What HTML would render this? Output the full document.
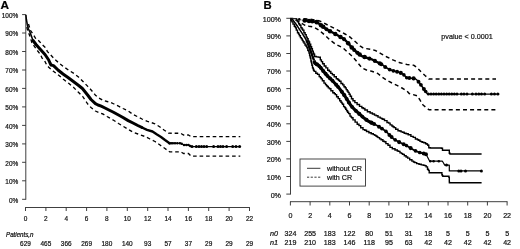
<!DOCTYPE html>
<html><head><meta charset="utf-8"><title>Survival curves</title>
<style>
html,body{margin:0;padding:0;background:#fff;}
body{width:520px;height:249px;overflow:hidden;font-family:"Liberation Sans",sans-serif;}
svg{display:block;}
</style></head><body>
<svg width="520" height="249" viewBox="0 0 520 249">
<rect width="520" height="249" fill="#fff"/>
<g fill="none" stroke="#2a2a2a" stroke-width="0.9">
<path d="M25.8,14.2V199.7"/>
<path d="M22.1,199.3H25.8"/>
<path d="M22.1,180.8H25.8"/>
<path d="M22.1,162.3H25.8"/>
<path d="M22.1,143.9H25.8"/>
<path d="M22.1,125.4H25.8"/>
<path d="M22.1,106.9H25.8"/>
<path d="M22.1,88.4H25.8"/>
<path d="M22.1,70.0H25.8"/>
<path d="M22.1,51.5H25.8"/>
<path d="M22.1,33.0H25.8"/>
<path d="M22.1,14.6H25.8"/>
<path d="M25.1,207.5H249.9"/>
<path d="M25.5,207.5V211"/>
<path d="M45.9,207.5V211"/>
<path d="M66.2,207.5V211"/>
<path d="M86.6,207.5V211"/>
<path d="M106.9,207.5V211"/>
<path d="M127.3,207.5V211"/>
<path d="M147.7,207.5V211"/>
<path d="M168.0,207.5V211"/>
<path d="M188.4,207.5V211"/>
<path d="M208.7,207.5V211"/>
<path d="M229.1,207.5V211"/>
<path d="M249.5,207.5V211"/>
<path d="M290.5,17.9V194.5"/>
<path d="M286.3,194.1H290.5"/>
<path d="M286.3,176.5H290.5"/>
<path d="M286.3,158.9H290.5"/>
<path d="M286.3,141.4H290.5"/>
<path d="M286.3,123.8H290.5"/>
<path d="M286.3,106.2H290.5"/>
<path d="M286.3,88.6H290.5"/>
<path d="M286.3,71.0H290.5"/>
<path d="M286.3,53.5H290.5"/>
<path d="M286.3,35.9H290.5"/>
<path d="M286.3,18.3H290.5"/>
<path d="M290.0,201.7H507.5"/>
<path d="M290.4,201.7V205.5"/>
<path d="M310.1,201.7V205.5"/>
<path d="M329.8,201.7V205.5"/>
<path d="M349.5,201.7V205.5"/>
<path d="M369.2,201.7V205.5"/>
<path d="M388.9,201.7V205.5"/>
<path d="M408.6,201.7V205.5"/>
<path d="M428.3,201.7V205.5"/>
<path d="M448.0,201.7V205.5"/>
<path d="M467.7,201.7V205.5"/>
<path d="M487.4,201.7V205.5"/>
<path d="M507.1,201.7V205.5"/>
</g>
<g font-family="'Liberation Sans', sans-serif" fill="#111" stroke="#111" stroke-width="0.22">
<text x="0.5" y="9.4" font-size="11.8" font-weight="bold" fill="#000">A</text>
<text x="263.5" y="8.8" font-size="11.3" font-weight="bold" fill="#000">B</text>
<text transform="translate(18.2,202.5) scale(0.91,1)" font-size="7.10" text-anchor="end">0%</text>
<text transform="translate(18.2,184.0) scale(0.91,1)" font-size="7.10" text-anchor="end">10%</text>
<text transform="translate(18.2,165.5) scale(0.91,1)" font-size="7.10" text-anchor="end">20%</text>
<text transform="translate(18.2,147.1) scale(0.91,1)" font-size="7.10" text-anchor="end">30%</text>
<text transform="translate(18.2,128.6) scale(0.91,1)" font-size="7.10" text-anchor="end">40%</text>
<text transform="translate(18.2,110.1) scale(0.91,1)" font-size="7.10" text-anchor="end">50%</text>
<text transform="translate(18.2,91.6) scale(0.91,1)" font-size="7.10" text-anchor="end">60%</text>
<text transform="translate(18.2,73.2) scale(0.91,1)" font-size="7.10" text-anchor="end">70%</text>
<text transform="translate(18.2,54.7) scale(0.91,1)" font-size="7.10" text-anchor="end">80%</text>
<text transform="translate(18.2,36.2) scale(0.91,1)" font-size="7.10" text-anchor="end">90%</text>
<text transform="translate(18.2,17.8) scale(0.91,1)" font-size="7.10" text-anchor="end">100%</text>
<text transform="translate(25.5,221.3) scale(0.875,1)" font-size="7.40" text-anchor="middle">0</text>
<text transform="translate(45.9,221.3) scale(0.875,1)" font-size="7.40" text-anchor="middle">2</text>
<text transform="translate(66.2,221.3) scale(0.875,1)" font-size="7.40" text-anchor="middle">4</text>
<text transform="translate(86.6,221.3) scale(0.875,1)" font-size="7.40" text-anchor="middle">6</text>
<text transform="translate(106.9,221.3) scale(0.875,1)" font-size="7.40" text-anchor="middle">8</text>
<text transform="translate(127.3,221.3) scale(0.875,1)" font-size="7.40" text-anchor="middle">10</text>
<text transform="translate(147.7,221.3) scale(0.875,1)" font-size="7.40" text-anchor="middle">12</text>
<text transform="translate(168.0,221.3) scale(0.875,1)" font-size="7.40" text-anchor="middle">14</text>
<text transform="translate(188.4,221.3) scale(0.875,1)" font-size="7.40" text-anchor="middle">16</text>
<text transform="translate(208.7,221.3) scale(0.875,1)" font-size="7.40" text-anchor="middle">18</text>
<text transform="translate(229.1,221.3) scale(0.875,1)" font-size="7.40" text-anchor="middle">20</text>
<text transform="translate(249.5,221.3) scale(0.875,1)" font-size="7.40" text-anchor="middle">22</text>
<text transform="translate(25.5,245.5) scale(0.875,1)" font-size="7.40" text-anchor="middle">629</text>
<text transform="translate(45.9,245.5) scale(0.875,1)" font-size="7.40" text-anchor="middle">465</text>
<text transform="translate(66.2,245.5) scale(0.875,1)" font-size="7.40" text-anchor="middle">366</text>
<text transform="translate(86.6,245.5) scale(0.875,1)" font-size="7.40" text-anchor="middle">269</text>
<text transform="translate(106.9,245.5) scale(0.875,1)" font-size="7.40" text-anchor="middle">180</text>
<text transform="translate(127.3,245.5) scale(0.875,1)" font-size="7.40" text-anchor="middle">140</text>
<text transform="translate(147.7,245.5) scale(0.875,1)" font-size="7.40" text-anchor="middle">93</text>
<text transform="translate(168.0,245.5) scale(0.875,1)" font-size="7.40" text-anchor="middle">57</text>
<text transform="translate(188.4,245.5) scale(0.875,1)" font-size="7.40" text-anchor="middle">37</text>
<text transform="translate(208.7,245.5) scale(0.875,1)" font-size="7.40" text-anchor="middle">29</text>
<text transform="translate(229.1,245.5) scale(0.875,1)" font-size="7.40" text-anchor="middle">29</text>
<text transform="translate(249.5,245.5) scale(0.875,1)" font-size="7.40" text-anchor="middle">29</text>
<text transform="translate(6.0,237.2) scale(0.94,1)" font-size="6.60" font-style="italic">Patients,n</text>
<text transform="translate(281.0,197.5) scale(0.92,1)" font-size="7.80" text-anchor="end">0%</text>
<text transform="translate(281.0,179.9) scale(0.92,1)" font-size="7.80" text-anchor="end">10%</text>
<text transform="translate(281.0,162.3) scale(0.92,1)" font-size="7.80" text-anchor="end">20%</text>
<text transform="translate(281.0,144.8) scale(0.92,1)" font-size="7.80" text-anchor="end">30%</text>
<text transform="translate(281.0,127.2) scale(0.92,1)" font-size="7.80" text-anchor="end">40%</text>
<text transform="translate(281.0,109.6) scale(0.92,1)" font-size="7.80" text-anchor="end">50%</text>
<text transform="translate(281.0,92.0) scale(0.92,1)" font-size="7.80" text-anchor="end">60%</text>
<text transform="translate(281.0,74.4) scale(0.92,1)" font-size="7.80" text-anchor="end">70%</text>
<text transform="translate(281.0,56.9) scale(0.92,1)" font-size="7.80" text-anchor="end">80%</text>
<text transform="translate(281.0,39.3) scale(0.92,1)" font-size="7.80" text-anchor="end">90%</text>
<text transform="translate(281.0,21.7) scale(0.92,1)" font-size="7.80" text-anchor="end">100%</text>
<text transform="translate(290.4,218.0) scale(0.88,1)" font-size="8.10" text-anchor="middle">0</text>
<text transform="translate(310.1,218.0) scale(0.88,1)" font-size="8.10" text-anchor="middle">2</text>
<text transform="translate(329.8,218.0) scale(0.88,1)" font-size="8.10" text-anchor="middle">4</text>
<text transform="translate(349.5,218.0) scale(0.88,1)" font-size="8.10" text-anchor="middle">6</text>
<text transform="translate(369.2,218.0) scale(0.88,1)" font-size="8.10" text-anchor="middle">8</text>
<text transform="translate(388.9,218.0) scale(0.88,1)" font-size="8.10" text-anchor="middle">10</text>
<text transform="translate(408.6,218.0) scale(0.88,1)" font-size="8.10" text-anchor="middle">12</text>
<text transform="translate(428.3,218.0) scale(0.88,1)" font-size="8.10" text-anchor="middle">14</text>
<text transform="translate(448.0,218.0) scale(0.88,1)" font-size="8.10" text-anchor="middle">16</text>
<text transform="translate(467.7,218.0) scale(0.88,1)" font-size="8.10" text-anchor="middle">18</text>
<text transform="translate(487.4,218.0) scale(0.88,1)" font-size="8.10" text-anchor="middle">20</text>
<text transform="translate(507.1,218.0) scale(0.88,1)" font-size="8.10" text-anchor="middle">22</text>
<text transform="translate(290.4,236.1) scale(0.88,1)" font-size="8.10" text-anchor="middle">324</text>
<text transform="translate(310.1,236.1) scale(0.88,1)" font-size="8.10" text-anchor="middle">255</text>
<text transform="translate(329.8,236.1) scale(0.88,1)" font-size="8.10" text-anchor="middle">183</text>
<text transform="translate(349.5,236.1) scale(0.88,1)" font-size="8.10" text-anchor="middle">122</text>
<text transform="translate(369.2,236.1) scale(0.88,1)" font-size="8.10" text-anchor="middle">80</text>
<text transform="translate(388.9,236.1) scale(0.88,1)" font-size="8.10" text-anchor="middle">51</text>
<text transform="translate(408.6,236.1) scale(0.88,1)" font-size="8.10" text-anchor="middle">31</text>
<text transform="translate(428.3,236.1) scale(0.88,1)" font-size="8.10" text-anchor="middle">18</text>
<text transform="translate(448.0,236.1) scale(0.88,1)" font-size="8.10" text-anchor="middle">5</text>
<text transform="translate(467.7,236.1) scale(0.88,1)" font-size="8.10" text-anchor="middle">5</text>
<text transform="translate(487.4,236.1) scale(0.88,1)" font-size="8.10" text-anchor="middle">5</text>
<text transform="translate(507.1,236.1) scale(0.88,1)" font-size="8.10" text-anchor="middle">5</text>
<text transform="translate(290.4,245.2) scale(0.88,1)" font-size="8.10" text-anchor="middle">219</text>
<text transform="translate(310.1,245.2) scale(0.88,1)" font-size="8.10" text-anchor="middle">210</text>
<text transform="translate(329.8,245.2) scale(0.88,1)" font-size="8.10" text-anchor="middle">183</text>
<text transform="translate(349.5,245.2) scale(0.88,1)" font-size="8.10" text-anchor="middle">146</text>
<text transform="translate(369.2,245.2) scale(0.88,1)" font-size="8.10" text-anchor="middle">118</text>
<text transform="translate(388.9,245.2) scale(0.88,1)" font-size="8.10" text-anchor="middle">95</text>
<text transform="translate(408.6,245.2) scale(0.88,1)" font-size="8.10" text-anchor="middle">63</text>
<text transform="translate(428.3,245.2) scale(0.88,1)" font-size="8.10" text-anchor="middle">42</text>
<text transform="translate(448.0,245.2) scale(0.88,1)" font-size="8.10" text-anchor="middle">42</text>
<text transform="translate(467.7,245.2) scale(0.88,1)" font-size="8.10" text-anchor="middle">42</text>
<text transform="translate(487.4,245.2) scale(0.88,1)" font-size="8.10" text-anchor="middle">42</text>
<text transform="translate(507.1,245.2) scale(0.88,1)" font-size="8.10" text-anchor="middle">42</text>
<text transform="translate(270.0,236.1) scale(0.92,1)" font-size="7.90" font-style="italic">n0</text>
<text transform="translate(270.0,245.2) scale(0.92,1)" font-size="7.90" font-style="italic">n1</text>
<text transform="translate(441.3,39.4) scale(0.91,1)" font-size="7.90">pvalue &lt; 0.0001</text>
<text transform="translate(327.0,171.4) scale(0.92,1)" font-size="7.80">without CR</text>
<text transform="translate(327.0,180.4) scale(0.92,1)" font-size="7.80">with CR</text>
</g>
<rect x="300.0" y="159.0" width="65.5" height="27.1" fill="none" stroke="#333" stroke-width="0.9"/>
<path d="M307,168.3H320.4" stroke="#222" stroke-width="0.9"/>
<path d="M307,177.2H320.4" stroke="#222" stroke-width="0.9" stroke-dasharray="2.2 1.5"/>
<g fill="none" stroke="#000" stroke-linejoin="round">
<polyline points="28.5,24.0 30.4,30.3 33.6,35.0 35.8,38.8 39.0,41.0 42.0,44.4 45.0,47.2 47.5,51.6 51.0,55.3 55.0,59.5 59.3,63.3 64.0,67.0 69.0,70.4 74.0,73.5 78.5,77.0 83.0,81.5 88.0,86.6 92.0,91.0 95.4,95.2 99.0,98.0 103.0,100.4 107.0,101.5 110.8,102.6 114.0,104.0 118.5,106.2 123.0,108.5 128.2,111.0 133.0,114.5 137.8,116.8 142.0,119.0 147.4,121.4 151.0,122.5 155.0,123.8 160.0,127.0 164.0,130.0 168.5,133.2 180.8,133.3 183.4,135.0 188.5,135.0 191.0,136.6 240.3,136.6" stroke-width="1.35" stroke-dasharray="3.6 2.9"/>
<polyline points="26.9,27.0 27.3,29.0 28.7,33.0 30.5,38.0 31.9,42.8 36.2,49.0 40.6,54.7 42.0,58.0 44.4,60.3 46.4,64.3 49.0,67.6 53.4,71.3 58.7,75.3 63.4,79.3 68.4,83.1 73.4,87.3 77.9,91.7 82.7,96.5 87.7,104.0 91.0,107.5 95.4,111.0 99.0,112.6 103.0,114.0 107.0,116.5 110.8,118.7 114.0,120.5 118.5,123.5 123.0,126.2 128.2,129.3 133.0,132.2 138.0,134.0 145.0,136.5 150.0,139.0 155.0,141.5 160.0,145.0 165.0,148.5 169.5,151.8 180.8,151.8 183.4,153.5 188.5,153.5 191.0,156.1 240.3,156.1" stroke-width="1.35" stroke-dasharray="3.6 2.9"/>
<polyline points="33.0,40.5 36.0,44.5 40.0,49.0 45.0,54.5 48.7,60.0 50.0,63.0 51.0,65.0 53.5,65.6 58.0,70.0 63.0,74.0 68.0,77.5 72.7,81.0 78.0,85.0 82.4,88.5 88.0,95.5 91.0,99.5 95.4,103.7 98.0,105.0 101.2,106.2 105.0,108.0 108.9,110.0 113.0,112.0 118.5,115.0 123.0,117.5 128.2,120.6 133.0,123.0 137.8,125.5 142.0,127.5" stroke-width="3.0" stroke-linecap="round"/>
<polyline points="142.0,127.5 147.0,129.8 152.5,131.5 157.0,134.5 161.0,137.0 165.0,140.0 169.5,143.2" stroke-width="2.4" stroke-linecap="round"/>
<polyline points="169.5,143.2 180.8,143.2 183.4,144.9 188.5,144.9 191.0,146.6 240.3,146.6" stroke-width="1.1"/>
<polyline points="25.9,15.0 26.4,19.5 27.3,24.5 28.4,28.7 30.4,33.3 33.0,40.5" stroke-width="1.5"/>
<polyline points="303.5,18.7 310.0,19.2 318.7,20.6 323.5,22.7 328.7,25.6 335.0,28.7 341.2,32.0 345.0,34.0 348.7,36.0 352.4,39.2 356.0,42.3 360.0,45.8 363.0,47.8 366.0,48.6 371.7,49.4 376.0,50.8 381.3,53.8 387.0,57.0 393.5,60.2 400.0,62.8 407.0,64.5 413.9,65.3 417.0,67.5 420.8,71.5 425.0,75.5 428.9,79.0 496.0,79.0" stroke-width="1.45" stroke-dasharray="4.0 3.1"/>
<polyline points="295.5,20.2 296.5,20.6 298.7,21.3 304.3,25.0 309.0,26.2 313.7,27.0 318.7,30.0 322.5,33.1 326.2,36.3 330.0,40.0 336.0,44.5 342.8,47.8 347.0,51.6 352.4,56.4 357.0,61.8 362.0,68.0 366.5,70.0 371.7,71.2 377.8,73.5 382.0,77.0 387.4,80.6 392.0,83.0 397.0,85.4 402.0,88.0 406.7,90.7 409.2,93.5 417.3,95.8 420.0,100.0 423.0,105.0 428.9,109.7 497.0,109.7" stroke-width="1.45" stroke-dasharray="4.0 3.1"/>
<polyline points="290.5,18.5 292.5,18.5 293.9,18.6 296.0,18.6 296.5,18.6 296.5,19.9 296.9,19.9 297.5,19.9 297.5,21.8 298.1,21.8 298.7,21.8 298.7,23.8 299.2,23.8 299.5,23.8 299.5,24.6 299.7,24.6 299.9,24.6 299.9,25.3 300.1,25.3 300.9,25.3 300.9,27.7 301.6,27.7 302.0,27.7 302.0,29.0 302.3,29.0 302.7,29.0 302.7,30.1 303.0,30.1 303.9,30.1 303.9,32.8 304.7,32.8 305.1,32.8 305.1,34.6 305.6,34.6 306.2,34.6 306.2,37.1 306.8,37.1 307.2,37.1 307.2,38.8 307.6,38.8 308.1,38.8 308.1,41.0 308.6,41.0 308.9,41.0 308.9,42.0 309.1,42.0 309.6,42.0 309.6,44.1 310.1,44.1 310.7,44.1 310.7,46.8 311.2,46.8 311.6,46.8 311.6,48.7 312.0,48.7 312.4,48.7 312.4,51.1 312.9,51.1 313.3,51.1 313.3,53.3 313.8,53.3 313.9,53.3 313.9,54.2 314.1,54.2 314.6,54.2 314.6,56.5 315.2,56.5 316.3,56.5 316.3,56.9 317.4,56.9 318.1,56.9 318.1,57.1 318.9,57.1 319.3,57.1 319.3,57.3 319.7,57.3 320.3,57.3 320.3,59.9 321.0,59.9 321.4,59.9 321.4,61.6 321.9,61.6 322.6,61.6 322.6,63.8 323.2,63.8 324.2,63.8 324.2,66.0 325.1,66.0 325.9,66.0 325.9,67.9 326.7,67.9 327.7,67.9 327.7,70.2 328.7,70.2 329.3,70.2 329.3,71.5 329.9,71.5 330.8,71.5 330.8,73.4 331.8,73.4 332.4,73.4 332.4,74.8 333.1,74.8 334.2,74.8 334.2,76.8 335.3,76.8 336.3,76.8 336.3,78.8 337.4,78.8 337.8,78.8 337.8,79.5 338.2,79.5 338.6,79.5 338.6,80.3 339.0,80.3 339.5,80.3 339.5,81.2 339.9,81.2 341.0,81.2 341.0,83.5 342.1,83.5 342.7,83.5 342.7,84.9 343.3,84.9 344.0,84.9 344.0,86.7 344.7,86.7 345.2,86.7 345.2,87.9 345.7,87.9 346.2,87.9 346.2,89.6 346.8,89.6 347.2,89.6 347.2,91.0 347.7,91.0 348.1,91.0 348.1,92.4 348.5,92.4 349.1,92.4 349.1,94.3 349.7,94.3 350.2,94.3 350.2,96.2 350.8,96.2 351.5,96.2 351.5,98.8 352.2,98.8 353.0,98.8 353.0,100.7 353.7,100.7 354.9,100.7 354.9,102.6 356.0,102.6 357.1,102.6 357.1,104.5 358.2,104.5 359.5,104.5 359.5,106.4 360.8,106.4 361.8,106.4 361.8,107.8 362.7,107.8 363.2,107.8 363.2,108.5 363.7,108.5 364.9,108.5 364.9,110.0 366.1,110.0 367.4,110.0 367.4,111.7 368.8,111.7 370.1,111.7 370.1,113.0 371.4,113.0 372.4,113.0 372.4,114.0 373.3,114.0 374.5,114.0 374.5,115.1 375.6,115.1 376.2,115.1 376.2,115.7 376.7,115.7 378.0,115.7 378.0,117.1 379.2,117.1 380.2,117.1 380.2,118.1 381.1,118.1 381.8,118.1 381.8,118.8 382.4,118.8 382.8,118.8 382.8,119.2 383.3,119.2 384.5,119.2 384.5,120.6 385.8,120.6 387.0,120.6 387.0,122.5 388.3,122.5 388.7,122.5 388.7,123.1 389.1,123.1 390.1,123.1 390.1,124.9 391.2,124.9 391.9,124.9 391.9,126.0 392.6,126.0 393.0,126.0 393.0,126.7 393.5,126.7 394.1,126.7 394.1,127.6 394.7,127.6 395.7,127.6 395.7,129.3 396.8,129.3 398.0,129.3 398.0,130.7 399.3,130.7 399.7,130.7 399.7,131.0 400.1,131.0 401.1,131.0 401.1,131.9 402.2,131.9 402.6,131.9 402.6,132.3 403.0,132.3 404.2,132.3 404.2,133.2 405.4,133.2 406.1,133.2 406.1,133.7 406.9,133.7 408.2,133.7 408.2,134.8 409.6,134.8 410.9,134.8 410.9,136.4 412.3,136.4 413.2,136.4 413.2,137.4 414.0,137.4 415.4,137.4 415.4,139.0 416.8,139.0 417.5,139.0 417.5,139.8 418.1,139.8 418.6,139.8 418.6,140.3 419.0,140.3 420.0,140.3 420.0,141.4 420.9,141.4 421.4,141.4 421.4,141.7 421.8,141.7 422.3,141.7 422.3,142.2 422.9,142.2 423.8,142.2 423.8,142.8 424.6,142.8 425.6,142.8 425.6,143.7 426.7,143.7 427.1,143.7 427.1,144.4 427.6,144.4 427.8,144.4 427.8,145.2 428.0,145.2 428.8,145.2 428.8,147.7 429.5,147.7 430.2,147.7 430.2,148.0 430.9,148.0 434.0,148.0 436.9,148.0 438.6,148.0 440.5,148.0 441.5,148.0 441.5,148.2 442.4,148.2 442.5,148.2 442.5,150.3 442.6,150.3 444.8,150.3 447.0,150.3 449.3,150.3 449.3,153.3 450.0,153.3 450.0,154.0 450.7,154.0 452.5,154.0 455.0,154.0 456.4,154.0 457.9,154.0 461.1,154.0 463.1,154.0 465.2,154.0 466.0,154.0 467.8,154.0 470.0,154.0 470.9,154.0 473.2,154.0 475.5,154.0 476.4,154.0 478.7,154.0 480.7,154.0 481.6,154.0" stroke-width="1.4" stroke-linejoin="miter"/>
<polyline points="290.5,18.8 291.0,18.8 291.0,20.5 291.5,20.5 291.9,20.5 291.9,21.9 292.4,21.9 293.0,21.9 293.0,24.1 293.7,24.1 294.3,24.1 294.3,26.3 295.0,26.3 295.2,26.3 295.2,27.0 295.4,27.0 295.6,27.0 295.6,27.9 295.8,27.9 296.3,27.9 296.3,30.1 296.9,30.1 297.5,30.1 297.5,32.8 298.2,32.8 298.6,32.8 298.6,34.1 298.9,34.1 299.4,34.1 299.4,35.7 299.9,35.7 300.4,35.7 300.4,37.6 301.0,37.6 301.4,37.6 301.4,38.9 301.8,38.9 302.3,38.9 302.3,40.4 302.7,40.4 303.1,40.4 303.1,41.7 303.5,41.7 304.0,41.7 304.0,43.1 304.4,43.1 305.0,43.1 305.0,45.0 305.6,45.0 306.1,45.0 306.1,46.2 306.5,46.2 306.9,46.2 306.9,47.7 307.3,47.7 307.8,47.7 307.8,50.2 308.4,50.2 308.5,50.2 308.5,51.0 308.7,51.0 309.0,51.0 309.0,53.0 309.3,53.0 309.6,53.0 309.6,55.5 309.9,55.5 310.1,55.5 310.1,57.0 310.3,57.0 310.4,57.0 310.4,58.3 310.6,58.3 310.9,58.3 310.9,61.0 311.1,61.0 311.3,61.0 311.3,62.3 311.4,62.3 311.6,62.3 311.6,63.6 311.7,63.6 311.9,63.6 311.9,65.3 312.1,65.3 312.5,65.3 312.5,67.7 312.9,67.7 313.1,67.7 313.1,68.7 313.3,68.7 313.5,68.7 313.5,70.2 313.8,70.2 314.2,70.2 314.2,71.4 314.7,71.4 315.8,71.4 315.8,73.2 316.8,73.2 317.5,73.2 317.5,74.4 318.3,74.4 319.2,74.4 319.2,76.6 320.0,76.6 320.4,76.6 320.4,77.6 320.7,77.6 321.2,77.6 321.2,78.9 321.7,78.9 322.4,78.9 322.4,80.8 323.1,80.8 324.0,80.8 324.0,83.1 324.9,83.1 325.5,83.1 325.5,84.6 326.1,84.6 326.5,84.6 326.5,85.6 326.9,85.6 327.2,85.6 327.2,86.5 327.6,86.5 328.3,86.5 328.3,87.9 329.0,87.9 329.5,87.9 329.5,88.8 329.9,88.8 330.9,88.8 330.9,90.8 331.8,90.8 332.8,90.8 332.8,92.7 333.9,92.7 334.3,92.7 334.3,93.6 334.8,93.6 335.3,93.6 335.3,94.6 335.8,94.6 336.6,94.6 336.6,96.8 337.5,96.8 338.2,96.8 338.2,98.6 338.9,98.6 339.7,98.6 339.7,100.8 340.5,100.8 341.0,100.8 341.0,102.2 341.4,102.2 341.8,102.2 341.8,103.1 342.1,103.1 342.5,103.1 342.5,104.3 342.9,104.3 343.6,104.3 343.6,106.6 344.4,106.6 344.8,106.6 344.8,107.8 345.2,107.8 345.7,107.8 345.7,109.2 346.1,109.2 346.6,109.2 346.6,110.7 347.1,110.7 347.6,110.7 347.6,112.2 348.1,112.2 348.6,112.2 348.6,113.6 349.1,113.6 350.0,113.6 350.0,116.1 350.8,116.1 351.1,116.1 351.1,117.1 351.5,117.1 351.7,117.1 351.7,117.7 352.0,117.7 353.0,117.7 353.0,119.9 354.1,119.9 355.1,119.9 355.1,122.1 356.1,122.1 357.2,122.1 357.2,124.3 358.3,124.3 359.0,124.3 359.0,125.6 359.6,125.6 360.7,125.6 360.7,127.8 361.8,127.8 363.0,127.8 363.0,129.6 364.2,129.6 364.8,129.6 364.8,130.2 365.4,130.2 366.5,130.2 366.5,131.5 367.6,131.5 368.9,131.5 368.9,132.8 370.1,132.8 371.2,132.8 371.2,133.8 372.3,133.8 373.3,133.8 373.3,134.6 374.2,134.6 374.8,134.6 374.8,135.4 375.5,135.4 376.1,135.4 376.1,136.3 376.8,136.3 377.3,136.3 377.3,137.1 377.9,137.1 378.3,137.1 378.3,137.6 378.7,137.6 379.6,137.6 379.6,138.9 380.5,138.9 381.1,138.9 381.1,139.7 381.8,139.7 382.9,139.7 382.9,141.2 384.0,141.2 384.4,141.2 384.4,141.7 384.8,141.7 385.9,141.7 385.9,143.6 387.1,143.6 388.0,143.6 388.0,145.3 388.9,145.3 390.0,145.3 390.0,147.4 391.0,147.4 392.3,147.4 392.3,148.8 393.6,148.8 395.0,148.8 395.0,150.0 396.3,150.0 397.3,150.0 397.3,151.0 398.3,151.0 398.6,151.0 398.6,151.4 398.9,151.4 400.0,151.4 400.0,152.9 401.1,152.9 401.6,152.9 401.6,153.6 402.1,153.6 402.7,153.6 402.7,154.4 403.3,154.4 404.3,154.4 404.3,155.8 405.3,155.8 406.1,155.8 406.1,157.0 407.0,157.0 407.7,157.0 407.7,158.1 408.4,158.1 409.7,158.1 409.7,159.8 410.9,159.8 411.9,159.8 411.9,161.1 412.8,161.1 413.5,161.1 413.5,162.0 414.1,162.0 414.8,162.0 414.8,162.6 415.4,162.6 416.7,162.6 416.7,163.6 418.1,163.6 419.0,163.6 419.0,164.3 419.9,164.3 421.2,164.3 421.2,164.9 422.5,164.9 423.3,164.9 423.3,165.3 424.1,165.3 424.7,165.3 424.7,165.6 425.4,165.6 426.1,165.6 426.1,166.9 426.8,166.9 427.5,166.9 427.5,169.3 428.1,169.3 428.4,169.3 428.4,170.4 428.6,170.4 429.2,170.4 429.2,172.7 429.8,172.7 432.9,172.7 435.6,172.7 438.4,172.7 439.2,172.7 441.5,172.7 441.9,172.7 441.9,174.7 442.4,174.7 442.4,175.6 442.8,175.6 442.8,176.2 443.2,176.2 444.7,176.2 446.7,176.2 448.6,176.2 448.9,176.2 448.9,177.4 449.3,177.4 449.3,180.1 449.3,180.9 449.3,181.8 449.4,181.8 449.4,182.7 449.5,182.7 450.6,182.7 451.6,182.7 454.7,182.7 457.5,182.7 458.6,182.7 460.6,182.7 462.1,182.7 463.7,182.7 465.3,182.7 467.7,182.7 469.9,182.7 471.5,182.7 472.8,182.7 474.4,182.7 475.5,182.7 477.6,182.7 480.1,182.7 481.6,182.7" stroke-width="1.4" stroke-linejoin="miter"/>
<polyline points="290.5,18.4 296.0,18.6 299.3,19.5 303.3,20.3" stroke-width="0.5" stroke="#555"/>
<polyline points="303.3,20.3 310.0,21.0 316.2,21.9 319.5,24.0 322.5,26.3 325.5,28.5 328.7,30.6 332.0,32.3 335.0,33.8 338.0,35.5 341.2,37.5 344.7,39.6 348.0,43.0 352.4,48.2 357.0,52.5 362.0,56.2 367.0,57.8 371.7,59.3 376.0,61.5 381.3,64.2" stroke-width="2.4"/>
<polyline points="381.3,64.2 386.0,67.5 390.5,70.0 396.0,71.5 401.0,72.9 404.0,75.0 407.0,78.0 415.0,78.5 417.5,80.5 419.6,83.0 423.5,88.5 427.7,94.2" stroke-width="1.5"/>
<polyline points="427.7,94.2 499.3,94.2" stroke-width="1.2"/>
<polyline points="290.5,18.6 292.5,19.4 297.5,26.3 302.5,33.8 306.3,40.0" stroke-width="1.5"/>
<polyline points="306.3,40.0 308.5,45.0 311.0,52.0 314.0,60.4" stroke-width="2.3"/>
<polyline points="314.0,60.4 315.0,63.5 317.8,64.7 320.5,67.5 323.7,71.5 327.5,76.0 331.6,79.8 335.5,84.0 339.3,88.3 342.0,92.0 345.0,96.2 348.0,101.0 350.8,105.4 354.5,109.5 358.5,113.2 363.0,117.2 367.7,120.8 372.0,123.0" stroke-width="3.1"/>
<polyline points="372.0,123.0 377.0,125.6 381.5,128.3 386.2,131.5 390.0,135.5 393.9,139.2 399.0,142.0 405.4,145.0 410.0,147.8 414.6,150.6 420.0,152.6 426.2,154.2" stroke-width="1.7"/>
<polyline points="426.2,154.2 427.5,157.0 429.7,161.2 442.4,161.2 443.5,163.0 444.7,165.1 449.3,165.1 449.3,170.9 481.6,170.9" stroke-width="1.2"/>
</g>
<g fill="#000">
<circle cx="192.0" cy="146.6" r="1.5"/>
<circle cx="196.3" cy="146.6" r="1.5"/>
<circle cx="199.0" cy="146.6" r="1.5"/>
<circle cx="201.5" cy="146.6" r="1.5"/>
<circle cx="204.0" cy="146.6" r="1.5"/>
<circle cx="206.7" cy="146.6" r="1.5"/>
<circle cx="213.6" cy="146.6" r="1.5"/>
<circle cx="218.0" cy="146.6" r="1.5"/>
<circle cx="220.5" cy="146.6" r="1.5"/>
<circle cx="223.0" cy="146.6" r="1.5"/>
<circle cx="226.6" cy="146.6" r="1.5"/>
<circle cx="232.7" cy="146.6" r="1.5"/>
<circle cx="236.0" cy="146.6" r="1.5"/>
<circle cx="239.6" cy="146.6" r="1.5"/>
<circle cx="169.5" cy="143.2" r="1.25"/>
<circle cx="171.1" cy="143.2" r="1.25"/>
<circle cx="172.9" cy="143.2" r="1.25"/>
<circle cx="175.0" cy="143.2" r="1.25"/>
<circle cx="177.3" cy="143.2" r="1.25"/>
<circle cx="179.9" cy="143.2" r="1.25"/>
<circle cx="181.7" cy="143.8" r="1.25"/>
<circle cx="184.0" cy="144.9" r="1.25"/>
<circle cx="186.4" cy="144.9" r="1.25"/>
<circle cx="188.5" cy="144.9" r="1.25"/>
<circle cx="190.2" cy="146.0" r="1.25"/>
<circle cx="304.7" cy="20.5" r="2.30"/>
<circle cx="309.0" cy="20.9" r="2.24"/>
<circle cx="312.3" cy="21.3" r="2.29"/>
<circle cx="316.7" cy="22.2" r="2.33"/>
<circle cx="321.0" cy="25.2" r="2.20"/>
<circle cx="323.2" cy="26.8" r="2.28"/>
<circle cx="326.5" cy="29.2" r="2.01"/>
<circle cx="330.0" cy="31.3" r="2.27"/>
<circle cx="335.3" cy="34.0" r="2.18"/>
<circle cx="340.5" cy="37.1" r="2.25"/>
<circle cx="343.9" cy="39.1" r="2.04"/>
<circle cx="348.2" cy="43.2" r="2.26"/>
<circle cx="351.8" cy="47.5" r="2.33"/>
<circle cx="354.2" cy="49.9" r="2.02"/>
<circle cx="357.4" cy="52.8" r="2.11"/>
<circle cx="359.7" cy="54.5" r="2.20"/>
<circle cx="364.6" cy="57.0" r="2.29"/>
<circle cx="369.4" cy="58.6" r="2.08"/>
<circle cx="374.9" cy="60.9" r="2.06"/>
<circle cx="379.8" cy="63.4" r="2.09"/>
<circle cx="381.3" cy="64.2" r="2.01"/>
<circle cx="385.2" cy="66.9" r="1.99"/>
<circle cx="389.7" cy="69.6" r="1.93"/>
<circle cx="393.4" cy="70.8" r="1.92"/>
<circle cx="397.1" cy="71.8" r="1.98"/>
<circle cx="400.8" cy="72.9" r="2.06"/>
<circle cx="403.9" cy="74.9" r="1.80"/>
<circle cx="406.7" cy="77.7" r="1.78"/>
<circle cx="409.3" cy="78.1" r="2.01"/>
<circle cx="413.6" cy="78.4" r="2.07"/>
<circle cx="418.5" cy="81.7" r="1.93"/>
<circle cx="420.9" cy="84.8" r="1.91"/>
<circle cx="423.9" cy="89.1" r="2.00"/>
<circle cx="425.7" cy="91.5" r="1.82"/>
<circle cx="299.3" cy="19.4" r="1.3"/>
<circle cx="428.4" cy="94.1" r="1.5"/>
<circle cx="431.0" cy="94.1" r="1.5"/>
<circle cx="433.6" cy="94.1" r="1.5"/>
<circle cx="436.2" cy="94.1" r="1.5"/>
<circle cx="438.8" cy="94.1" r="1.5"/>
<circle cx="441.4" cy="94.1" r="1.5"/>
<circle cx="444.0" cy="94.1" r="1.5"/>
<circle cx="446.6" cy="94.1" r="1.5"/>
<circle cx="449.2" cy="94.1" r="1.5"/>
<circle cx="451.8" cy="94.1" r="1.5"/>
<circle cx="454.4" cy="94.1" r="1.5"/>
<circle cx="457.0" cy="94.1" r="1.5"/>
<circle cx="461.3" cy="94.1" r="1.5"/>
<circle cx="464.0" cy="94.1" r="1.5"/>
<circle cx="467.0" cy="94.1" r="1.5"/>
<circle cx="472.4" cy="94.1" r="1.5"/>
<circle cx="476.0" cy="94.1" r="1.5"/>
<circle cx="478.8" cy="94.1" r="1.5"/>
<circle cx="481.5" cy="94.1" r="1.5"/>
<circle cx="484.7" cy="94.1" r="1.5"/>
<circle cx="491.4" cy="94.1" r="1.5"/>
<circle cx="494.5" cy="94.1" r="1.5"/>
<circle cx="497.8" cy="94.1" r="1.5"/>
<circle cx="314.6" cy="62.3" r="1.83"/>
<circle cx="316.8" cy="64.3" r="2.09"/>
<circle cx="319.2" cy="66.1" r="1.90"/>
<circle cx="320.7" cy="67.7" r="1.92"/>
<circle cx="323.2" cy="70.9" r="2.00"/>
<circle cx="325.6" cy="73.8" r="2.04"/>
<circle cx="327.4" cy="75.9" r="1.80"/>
<circle cx="330.1" cy="78.4" r="1.92"/>
<circle cx="332.5" cy="80.8" r="1.95"/>
<circle cx="336.2" cy="84.7" r="1.97"/>
<circle cx="338.0" cy="86.8" r="1.87"/>
<circle cx="341.8" cy="91.7" r="2.00"/>
<circle cx="344.2" cy="95.1" r="2.13"/>
<circle cx="346.7" cy="98.9" r="1.94"/>
<circle cx="348.9" cy="102.4" r="1.99"/>
<circle cx="352.1" cy="106.9" r="1.84"/>
<circle cx="356.0" cy="110.9" r="1.90"/>
<circle cx="359.3" cy="113.9" r="2.03"/>
<circle cx="362.3" cy="116.6" r="1.84"/>
<circle cx="366.4" cy="119.8" r="2.11"/>
<circle cx="371.3" cy="122.6" r="2.12"/>
<circle cx="372.0" cy="123.0" r="1.87"/>
<circle cx="374.1" cy="124.1" r="2.00"/>
<circle cx="379.0" cy="126.8" r="1.99"/>
<circle cx="381.9" cy="128.6" r="1.95"/>
<circle cx="386.0" cy="131.4" r="1.81"/>
<circle cx="389.4" cy="134.9" r="1.98"/>
<circle cx="391.6" cy="137.0" r="1.97"/>
<circle cx="395.2" cy="139.9" r="1.81"/>
<circle cx="399.1" cy="142.1" r="2.06"/>
<circle cx="403.7" cy="144.2" r="1.98"/>
<circle cx="406.4" cy="145.6" r="1.79"/>
<circle cx="410.6" cy="148.1" r="2.08"/>
<circle cx="415.5" cy="150.9" r="1.80"/>
<circle cx="419.8" cy="152.5" r="1.87"/>
<circle cx="423.7" cy="153.6" r="2.00"/>
<circle cx="426.0" cy="154.2" r="1.96"/>
<circle cx="430.3" cy="161.2" r="1.3"/>
<circle cx="433.6" cy="161.2" r="1.3"/>
<circle cx="438.8" cy="161.2" r="1.3"/>
<circle cx="446.5" cy="165.1" r="1.5"/>
<circle cx="458.8" cy="170.9" r="1.5"/>
<circle cx="461.0" cy="170.9" r="1.5"/>
<circle cx="465.5" cy="170.9" r="1.5"/>
<circle cx="481.4" cy="170.9" r="1.5"/>
</g>
</svg>
</body></html>
